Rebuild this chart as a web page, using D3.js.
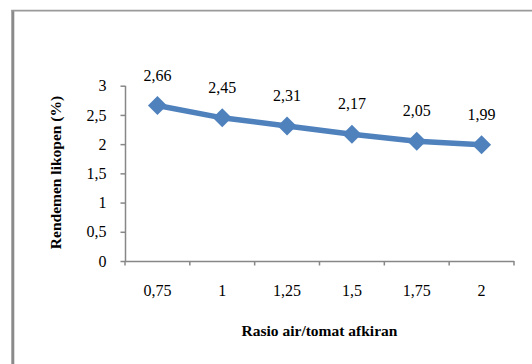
<!DOCTYPE html>
<html><head><meta charset="utf-8">
<script src="https://cdn.jsdelivr.net/npm/d3@7"></script>
<style>html,body{margin:0;padding:0;background:#fff;}svg{display:block;}</style>
</head><body>
<svg id="c" width="532" height="364"></svg>
<script>
const categories = ["0,75", "1", "1,25", "1,5", "1,75", "2"];
const values = [2.66, 2.45, 2.31, 2.17, 2.05, 1.99];
const valueLabels = ["2,66", "2,45", "2,31", "2,17", "2,05", "1,99"];
const yTicks = [0, 0.5, 1, 1.5, 2, 2.5, 3];
const yTickLabels = ["0", "0,5", "1", "1,5", "2", "2,5", "3"];
const xTitle = "Rasio air/tomat afkiran";
const yTitle = "Rendemen likopen (%)";

(function () {
const svg = d3.select("#c");
const font = '"Liberation Serif"';
const axisColor = "#878787";
const blue = "#4F81BD";

svg.append("line").attr("x1", 12.8).attr("x2", 12.8).attr("y1", 10).attr("y2", 364)
  .attr("stroke", "#8a8a8a").attr("stroke-width", 3);
svg.append("line").attr("x1", 11.3).attr("x2", 532).attr("y1", 10.6).attr("y2", 10.6)
  .attr("stroke", "#9a9a9a").attr("stroke-width", 1.6);

const pLeft = 125, pRight = 514, pTop = 85.7, pBottom = 261;
const x = d3.scaleBand().domain(categories).range([pLeft, pRight]).paddingInner(0).paddingOuter(0);
const y = d3.scaleLinear().domain([0, 3]).range([pBottom, pTop]);

const yAxis = svg.append("g").attr("transform", `translate(${pLeft},0)`)
  .call(d3.axisLeft(y).tickValues(yTicks).tickSize(4.5).tickPadding(14).tickFormat((d, i) => yTickLabels[i]));
const xAxis = svg.append("g").attr("transform", `translate(0,${pBottom})`)
  .call(d3.axisBottom(x).tickSize(0).tickPadding(24));
const bounds = categories.map(c => x(c)).concat([x(categories[categories.length-1]) + x.bandwidth()]);
svg.append("g").selectAll("line").data(bounds).join("line")
  .attr("x1", d => d).attr("x2", d => d).attr("y1", pBottom).attr("y2", pBottom + 4.5)
  .attr("stroke", axisColor).attr("stroke-width", 1.5);

[yAxis, xAxis].forEach(g => {
  g.attr("font-family", null).attr("font-size", null);
  g.select(".domain").attr("stroke", axisColor).attr("stroke-width", 1.5);
  g.selectAll(".tick line").attr("stroke", axisColor).attr("stroke-width", 1.5);
  g.selectAll("text").style("font-family", font).style("font-size", "16px").attr("fill", "#000");
});
xAxis.select(".domain").attr("d", `M${pLeft},0.5H${pRight}`);
yAxis.select(".domain").attr("d", `M0.5,${pBottom}V${pTop}`);

const cx = d => x(d.c) + x.bandwidth() / 2;
const data = categories.map((c, i) => ({c, v: values[i], l: valueLabels[i]}));
svg.append("path").datum(data)
  .attr("d", d3.line().x(cx).y(d => y(d.v)))
  .attr("fill", "none").attr("stroke", blue).attr("stroke-width", 5.5).attr("stroke-linejoin", "round");

const r = 9.5;
svg.append("g").selectAll("path").data(data).join("path")
  .attr("d", d => { const px = cx(d), py = y(d.v); return `M${px},${py - r}L${px + r},${py}L${px},${py + r}L${px - r},${py}Z`; })
  .attr("fill", blue);

svg.append("g").selectAll("text").data(data).join("text")
  .attr("x", cx).attr("y", d => y(d.v) - 25)
  .attr("text-anchor", "middle").style("font-family", font).style("font-size", "16px").text(d => d.l);

svg.append("text").attr("x", 319.5).attr("y", 336)
  .attr("text-anchor", "middle").style("font-family", font).style("font-size", "15.5px").style("font-weight", "bold").text(xTitle);
svg.append("text").attr("transform", "translate(61,172.5) rotate(-90)")
  .attr("text-anchor", "middle").style("font-family", font).style("font-size", "15.5px").style("font-weight", "bold").text(yTitle);
})();
</script>
</body></html>
